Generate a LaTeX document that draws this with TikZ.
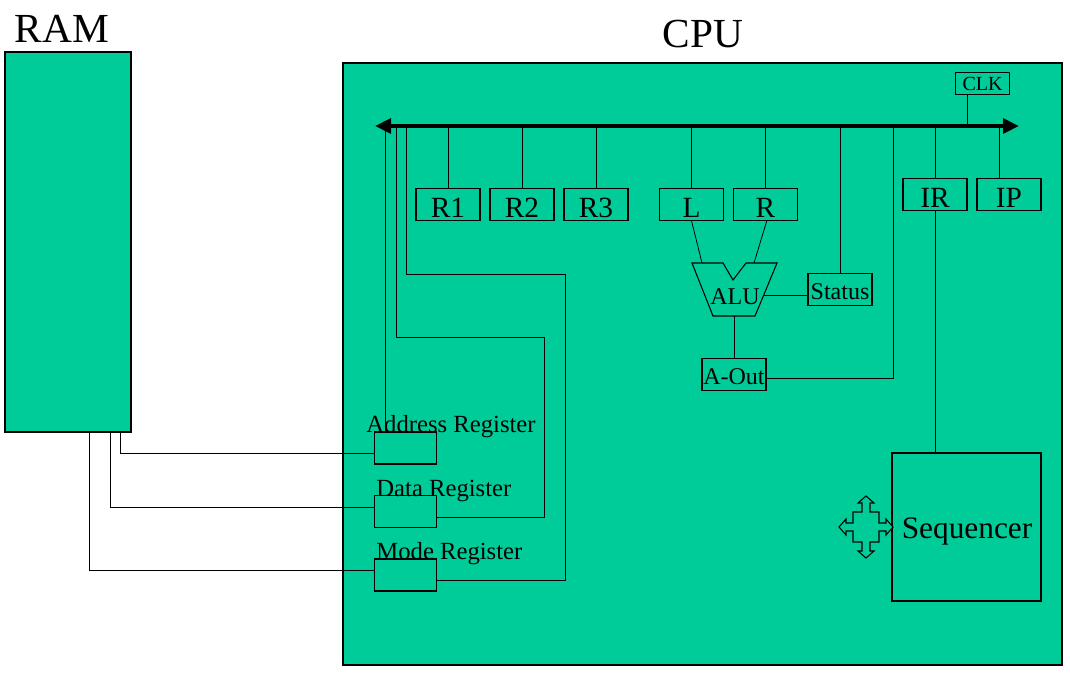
\documentclass[tikz,border=0pt]{standalone}
\usepackage{fontspec}
\setmainfont{Liberation Serif}
\usetikzlibrary{arrows.meta}
\definecolor{cpugreen}{RGB}{0,204,153}

\begin{document}
\begin{tikzpicture}[x=0.75pt, y=-0.75pt, line width=0.6pt,
  box/.style={draw, line width=0.8pt, fill=cpugreen, inner sep=0pt},
  reg/.style={box, minimum width=48pt, minimum height=23.5pt, text height=19pt, text depth=0pt, font=\fontsize{22}{24}\selectfont},
  small/.style={box, minimum width=48pt, minimum height=24.5pt, text height=15pt, text depth=0pt, font=\fontsize{18}{20}\selectfont},
  memreg/.style={box, minimum width=47pt, minimum height=24pt},
  tag/.style={anchor=base west, inner sep=0pt, font=\fontsize{18.5}{20}\selectfont},
  title/.style={anchor=base, inner sep=0pt, font=\fontsize{31}{34}\selectfont},
  bus/.style={line width=3pt, {Triangle[length=12pt,width=11pt]}-{Triangle[length=12pt,width=11pt]}}
]
  \useasboundingbox (0,0) rectangle (1070,674);

  % RAM and CPU blocks
  \node[box, minimum width=94.5pt, minimum height=285pt] (RAM) at (68,242) {};
  \node[box, minimum width=539.25pt, minimum height=451.5pt] (CPU) at (702.5,364) {};
  \node[title] (ramlbl) at (62,43) {RAM};
  \node[title] (cpulbl) at (703,48) {CPU};

  % Bus end points and taps
  \coordinate (busL) at (375,126);
  \coordinate (busR) at (1019,126);
  \coordinate (clktap) at (967,126);
  \coordinate (iptap) at (999,126);
  \coordinate (aotap) at (893,126);
  \coordinate (tapA) at (385,126);
  \coordinate (tapD) at (396,126);
  \coordinate (tapM) at (406,126);

  % Registers
  \foreach \name/\x in {R1/448, R2/522, R3/596, L/691.5, R/765.5}
    \node[reg] (\name) at (\x,204.5) {\name};
  \node[reg] (IR) at (935,194.5) {IR};
  \node[reg] (IP) at (1009,194.5) {IP};
  \node[box, minimum width=40pt, minimum height=16.5pt, font=\fontsize{15}{16}\selectfont] (CLK) at (982.5,83.5) {CLK};
  \node[small] (Status) at (840,289.5) {Status};
  \node[small] (AOut) at (734,374.5) {A-Out};

  % ALU
  \draw[line width=0.8pt, fill=cpugreen] (692,263) -- (723,263) -- (733,280) -- (746,263) -- (777,263) -- (755,316) -- (713,316) -- cycle;
  \node[inner sep=0pt, font=\fontsize{18}{20}\selectfont] (ALU) at (735,297) {ALU};
  \coordinate (aluL) at (702,263);
  \coordinate (aluR) at (754,263);
  \coordinate (aluE) at (764,295);
  \coordinate (aluS) at (734,316);

  % Sequencer
  \node[box, minimum width=111.75pt, minimum height=111pt] (Seq) at (966.5,527) {};
  \node[inner sep=0pt, font=\fontsize{23.5}{26}\selectfont] (seqlbl) at (967,531) {Sequencer};
  \draw[line width=0.8pt, fill=cpugreen, shift={(866,527)}] (0,-31) -- (8,-24) -- (4,-24) -- (4,-15) -- (13,-15) -- (13,-4) -- (20,-4) -- (20,-8) -- (27,0) -- (20,8) -- (20,4) -- (13,4) -- (13,15) -- (4,15) -- (4,24) -- (8,24) -- (0,31) -- (-8,24) -- (-4,24) -- (-4,15) -- (-13,15) -- (-13,4) -- (-20,4) -- (-20,8) -- (-27,0) -- (-20,-8) -- (-20,-4) -- (-13,-4) -- (-13,-15) -- (-4,-15) -- (-4,-24) -- (-8,-24) -- cycle;

  % Memory interface registers
  \node[memreg] (AddrReg) at (405.5,448) {};
  \node[memreg] (DataReg) at (405.5,511.5) {};
  \node[memreg] (ModeReg) at (405.5,575) {};
  \coordinate (dataturn) at (544,337);
  \coordinate (modeturn) at (565,274);
  \coordinate (ramA) at (120,432);
  \coordinate (ramD) at (110,432);
  \coordinate (ramM) at (89,432);

  % Connections to the bus
  \foreach \name in {R1,R2,R3,L,R,IR,Status}
    \draw (\name.north) -- (\name.north |- busL);
  \draw (clktap) -- (clktap |- CLK.south);
  \draw (iptap) -- (iptap |- IP.north);
  \draw ([yshift=-2.6pt]AOut.east) -| (aotap);
  \draw (IR.south) -- (IR.south |- Seq.north);
  \draw (L.south) -- (aluL);
  \draw ([xshift=1pt]R.south) -- (aluR);
  \draw (aluE) -- (aluE -| Status.west);
  \draw (aluS) -- (AOut.north);

  \draw (tapA) -- (tapA |- AddrReg.north);
  \draw (tapD) |- (dataturn) |- ([yshift=-4.1pt]DataReg.east);
  \draw (tapM) |- (modeturn) |- ([yshift=-3.75pt]ModeReg.east);

  % RAM to CPU
  \draw (ramA) |- ([yshift=-3.75pt]AddrReg.west);
  \draw (ramD) |- ([yshift=3.4pt]DataReg.west);
  \draw (ramM) |- ([yshift=3.75pt]ModeReg.west);

  \draw[bus] (busL) -- (busR);

  \node[tag] (addrlbl) at (366,432) {Address Register};
  \node[tag] (datalbl) at (376,496) {Data Register};
  \node[tag] (modelbl) at (376,559) {Mode Register};

\end{tikzpicture}
\end{document}
